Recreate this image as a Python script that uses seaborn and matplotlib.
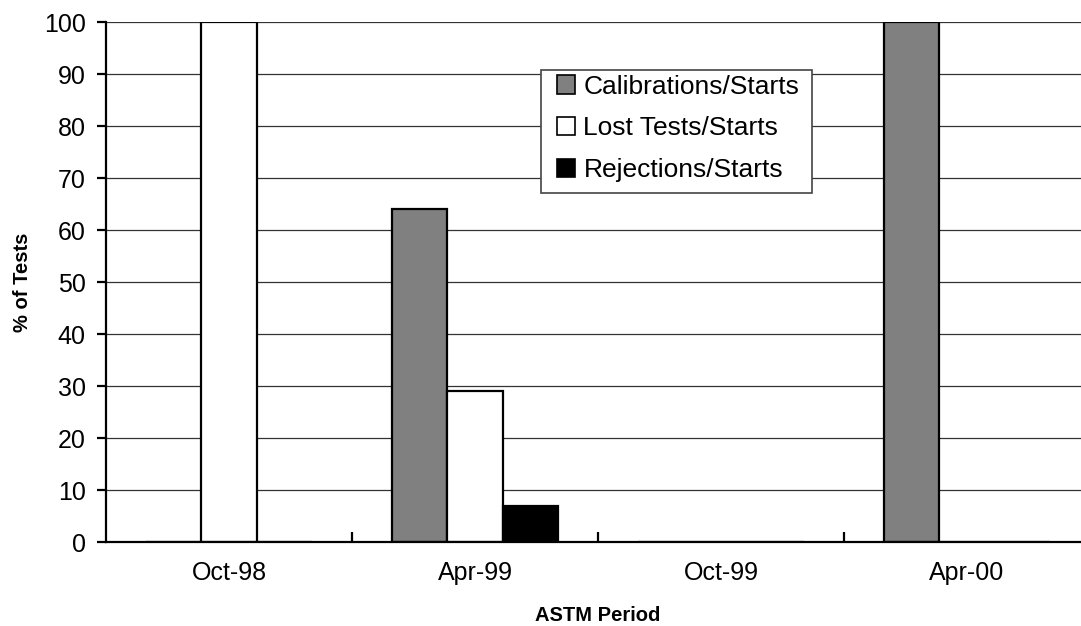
import matplotlib
matplotlib.use("Agg")
import matplotlib.pyplot as plt
import seaborn as sns
import pandas as pd
from matplotlib.ticker import FixedLocator
from matplotlib.patches import Rectangle

periods = ["Oct-98", "Apr-99", "Oct-99", "Apr-00"]
calibrations = [0, 64, 0, 100]
lost_tests = [100, 29, 0, 0]
rejections = [0, 7, 0, 0]
series_names = ["Calibrations/Starts", "Lost Tests/Starts", "Rejections/Starts"]
colors = ["#808080", "#ffffff", "#000000"]

rows = []
for name, vals in zip(series_names, [calibrations, lost_tests, rejections]):
    for p, v in zip(periods, vals):
        rows.append({"Period": p, "Series": name, "Value": v})
df = pd.DataFrame(rows)

sns.set_theme(style="white")
plt.rcParams["font.family"] = ["Liberation Sans", "DejaVu Sans"]
plt.rcParams["text.color"] = "black"
plt.rcParams["axes.labelcolor"] = "black"
plt.rcParams["xtick.color"] = "black"
plt.rcParams["ytick.color"] = "black"

fig = plt.figure(figsize=(10.81, 6.26), dpi=100)
ax = fig.add_axes([106 / 1081, 84 / 626, 984 / 1081, 520 / 626])

sns.barplot(data=df, x="Period", y="Value", hue="Series", order=periods,
            hue_order=series_names, palette=colors, width=0.675, gap=0,
            edgecolor="black", linewidth=1.6, ax=ax, legend=True)

ax.set_xlim(-0.5, 3.5)
ax.set_ylim(0, 100)
ax.set_yticks(range(0, 101, 10))
ax.yaxis.grid(True, color="#333333", linewidth=0.9)
ax.set_axisbelow(True)
for s in ["top", "right"]:
    ax.spines[s].set_visible(False)
for s in ["left", "bottom"]:
    ax.spines[s].set_color("black")
    ax.spines[s].set_linewidth(1.6)

ax.tick_params(axis="y", which="major", direction="out", length=6.5, width=1.6,
               color="black", labelcolor="black", labelsize=18, pad=8, left=True)
ax.tick_params(axis="x", which="major", length=0, labelsize=18, pad=14,
               labelcolor="black")
ax.xaxis.set_minor_locator(FixedLocator([0.5, 1.5, 2.5]))
ax.tick_params(axis="x", which="minor", direction="in", length=7, width=1.6,
               color="black", bottom=True)

ax.set_xlabel("ASTM Period", fontsize=14.5, fontweight="bold", color="black")
ax.set_ylabel("% of Tests", fontsize=14.5, fontweight="bold", color="black")
ax.xaxis.set_label_coords(0.5, (542 - 606) / 520)
ax.yaxis.set_label_coords((32 - 106) / 984, 0.5)

leg = ax.legend(loc="upper left", bbox_to_anchor=((557 - 106) / 984, (542 - 74.5) / 520),
                fontsize=19, frameon=False, handlelength=0.7,
                handleheight=0.7, handletextpad=0.3, borderpad=0,
                labelspacing=0.68, borderaxespad=0)
for h in leg.legend_handles:
    h.set_edgecolor("black")
    h.set_linewidth(1.2)
leg.set_zorder(6)

# frame drawn around the legend content with the reference's padding
fig.canvas.draw()
bb = leg.get_window_extent(fig.canvas.get_renderer())
x0, y0 = bb.x0 - 16, bb.y0 - 11
x1, y1 = bb.x1 + 13, bb.y1 + 4.5
inv = ax.transAxes.inverted()
(ax0, ay0), (ax1, ay1) = inv.transform([(x0, y0), (x1, y1)])
ax.add_patch(Rectangle((ax0, ay0), ax1 - ax0, ay1 - ay0, transform=ax.transAxes,
                       facecolor="white", edgecolor="#444444", linewidth=1.2,
                       zorder=5, clip_on=False))

fig.savefig("out.png", dpi=100)
